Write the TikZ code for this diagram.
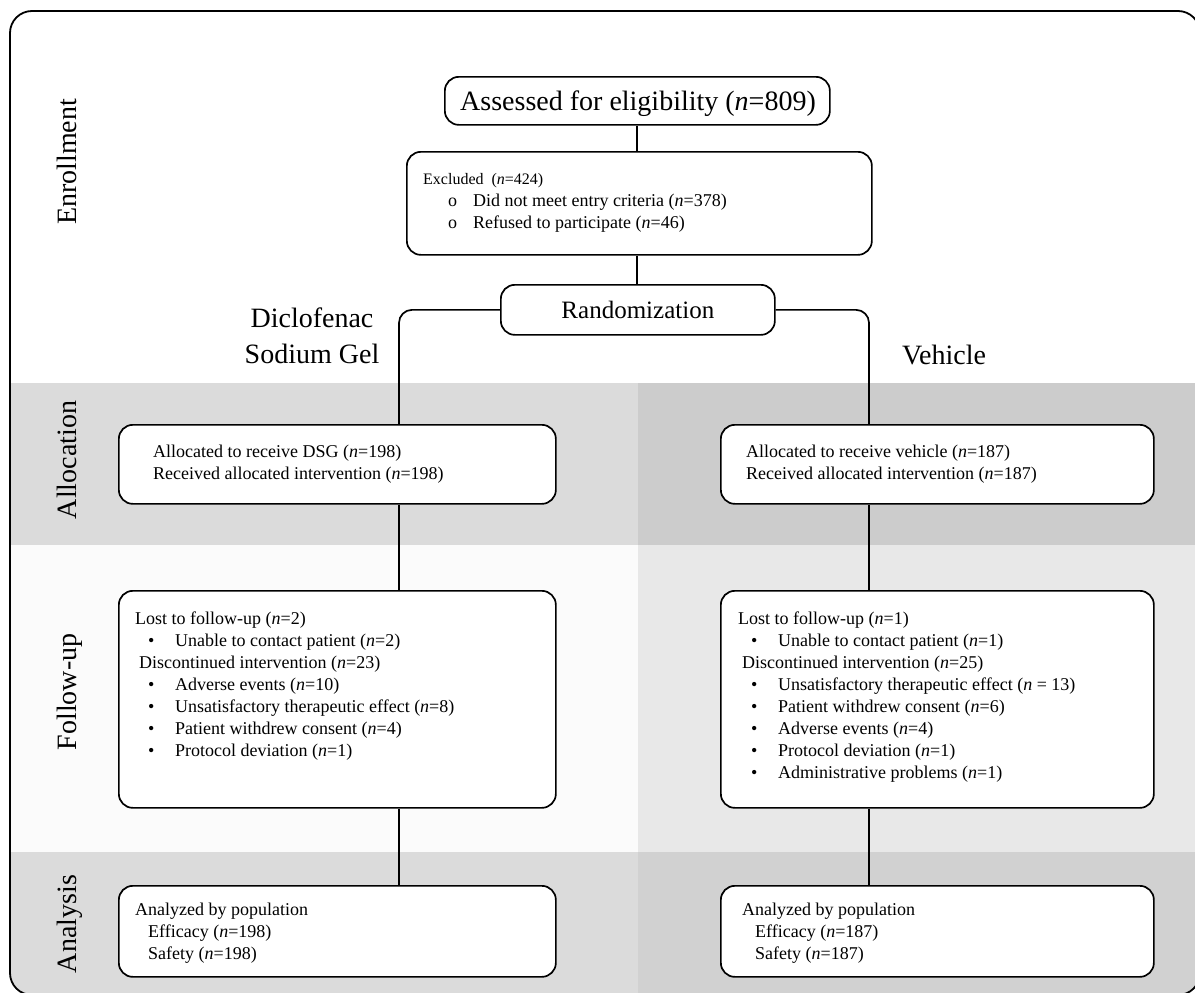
\documentclass[tikz,border=0pt]{standalone}
\usepackage{fontspec}
\setmainfont{Liberation Serif}
\newcommand{\nn}{\textit{n}}
\newcommand{\bul}{\hspace*{13pt}\makebox[27pt][l]{\textbullet}}
\newcommand{\obul}{\hspace*{25pt}\makebox[25pt][l]{o}}
\definecolor{allocL}{gray}{0.86}
\definecolor{allocR}{gray}{0.80}
\definecolor{fuL}{gray}{0.985}
\definecolor{fuR}{gray}{0.91}
\definecolor{anL}{gray}{0.86}
\definecolor{anR}{gray}{0.82}
\begin{document}
\begin{tikzpicture}[x=1pt,y=-1pt,
  box/.style={draw, line width=1.7pt, rounded corners=14pt, fill=white, inner sep=0pt, anchor=north west},
  conn/.style={line width=1.7pt},
  lbl/.style={font=\fontsize{28}{34}\selectfont, rotate=90, anchor=base, inner sep=0pt},
  txt/.style={font=\fontsize{18}{22}\selectfont, anchor=base west, inner sep=0pt},
  big/.style={font=\fontsize{28}{36}\selectfont, inner sep=0pt}]
\useasboundingbox (0,0) rectangle (1195,993);
% background bands clipped by the frame
\begin{scope}
  \clip[rounded corners=22pt] (10,11) rectangle (1200,995);
  \fill[allocL] (0,383) rectangle (638,545);
  \fill[allocR] (638,383) rectangle (1210,545);
  \fill[fuL] (0,545) rectangle (638,852);
  \fill[fuR] (638,545) rectangle (1210,852);
  \fill[anL] (0,852) rectangle (638,1000);
  \fill[anR] (638,852) rectangle (1210,1000);
\end{scope}
\draw[line width=1.8pt, rounded corners=22pt] (10,11) rectangle (1200,995);

% phase labels
\node[lbl] (lenr) at (76,162) {Enrollment};
\node[lbl] (lall) at (76,460) {Allocation};
\node[lbl] (lfu) at (76,692) {Follow-up};
\node[lbl] (lan) at (76,924) {Analysis};

% enrollment boxes
\node[box, minimum width=385pt, minimum height=48pt] (assess) at (444,76) {};
\node[anchor=base west, inner sep=0pt, font=\fontsize{28}{34}\selectfont] (assesst) at (460,110) {Assessed for eligibility (\nn=809)};
\node[box, minimum width=465pt, minimum height=103pt] (excl) at (406,151) {};
\node[txt] (exclt) at ([shift={(17,33)}]excl.north west) {\begin{tabular}[t]{@{}l@{}}
{\fontsize{16}{22}\selectfont Excluded\ \ (\nn=424)}\\
\obul Did not meet entry criteria (\nn=378)\\
\obul Refused to participate (\nn=46)
\end{tabular}};
\node[box, minimum width=274pt, minimum height=50pt, font=\fontsize{25}{30}\selectfont] (rand) at (500,284) {Randomization};

% arm titles
\node[big, anchor=base] (dsgt) at (312,327) {\begin{tabular}[t]{@{}c@{}}Diclofenac\\ Sodium Gel\end{tabular}};
\node[big, anchor=base] (veht) at (944,364) {Vehicle};

% DSG arm
\node[box, minimum width=437pt, minimum height=79pt] (dal) at (118,424) {};
\node[txt] (dalt) at ([shift={(35,33)}]dal.north west) {\begin{tabular}[t]{@{}l@{}}
Allocated to receive DSG (\nn=198)\\
Received allocated intervention (\nn=198)
\end{tabular}};
\node[box, minimum width=437pt, minimum height=217pt] (dfu) at (118,590) {};
\node[txt] (dfut) at ([shift={(17,34)}]dfu.north west) {\begin{tabular}[t]{@{}l@{}}
Lost to follow-up (\nn=2)\\
\bul Unable to contact patient (\nn=2)\\
\hspace*{4pt}Discontinued intervention (\nn=23)\\
\bul Adverse events (\nn=10)\\
\bul Unsatisfactory therapeutic effect (\nn=8)\\
\bul Patient withdrew consent (\nn=4)\\
\bul Protocol deviation (\nn=1)
\end{tabular}};
\node[box, minimum width=437pt, minimum height=91pt] (dan) at (118,885) {};
\node[txt] (dant) at ([shift={(17,30)}]dan.north west) {\begin{tabular}[t]{@{}l@{}}
Analyzed by population\\
\hspace*{13pt}Efficacy (\nn=198)\\
\hspace*{13pt}Safety (\nn=198)
\end{tabular}};

% Vehicle arm
\node[box, minimum width=433pt, minimum height=79pt] (val) at (720,424) {};
\node[txt] (valt) at ([shift={(26,33)}]val.north west) {\begin{tabular}[t]{@{}l@{}}
Allocated to receive vehicle (\nn=187)\\
Received allocated intervention (\nn=187)
\end{tabular}};
\node[box, minimum width=433pt, minimum height=217pt] (vfu) at (720,590) {};
\node[txt] (vfut) at ([shift={(18,34)}]vfu.north west) {\begin{tabular}[t]{@{}l@{}}
Lost to follow-up (\nn=1)\\
\bul Unable to contact patient (\nn=1)\\
\hspace*{4pt}Discontinued intervention (\nn=25)\\
\bul Unsatisfactory therapeutic effect (\nn\ =\ 13)\\
\bul Patient withdrew consent (\nn=6)\\
\bul Adverse events (\nn=4)\\
\bul Protocol deviation (\nn=1)\\
\bul Administrative problems (\nn=1)
\end{tabular}};
\node[box, minimum width=433pt, minimum height=91pt] (van) at (720,885) {};
\node[txt] (vant) at ([shift={(22,30)}]van.north west) {\begin{tabular}[t]{@{}l@{}}
Analyzed by population\\
\hspace*{13pt}Efficacy (\nn=187)\\
\hspace*{13pt}Safety (\nn=187)
\end{tabular}};

% connectors
\coordinate (cx) at (637,0);
\coordinate (dx) at (399,0);
\coordinate (vx) at (869,0);
\draw[conn] (cx |- assess.south) -- (cx |- excl.north);
\draw[conn] (cx |- excl.south) -- (cx |- rand.north);
\draw[conn, rounded corners=13pt] (rand.west) -| (dx |- dal.north);
\draw[conn, rounded corners=13pt] (rand.east) -| (vx |- val.north);
\draw[conn] (dx |- dal.south) -- (dx |- dfu.north);
\draw[conn] (dx |- dfu.south) -- (dx |- dan.north);
\draw[conn] (vx |- val.south) -- (vx |- vfu.north);
\draw[conn] (vx |- vfu.south) -- (vx |- van.north);
\end{tikzpicture}
\end{document}
